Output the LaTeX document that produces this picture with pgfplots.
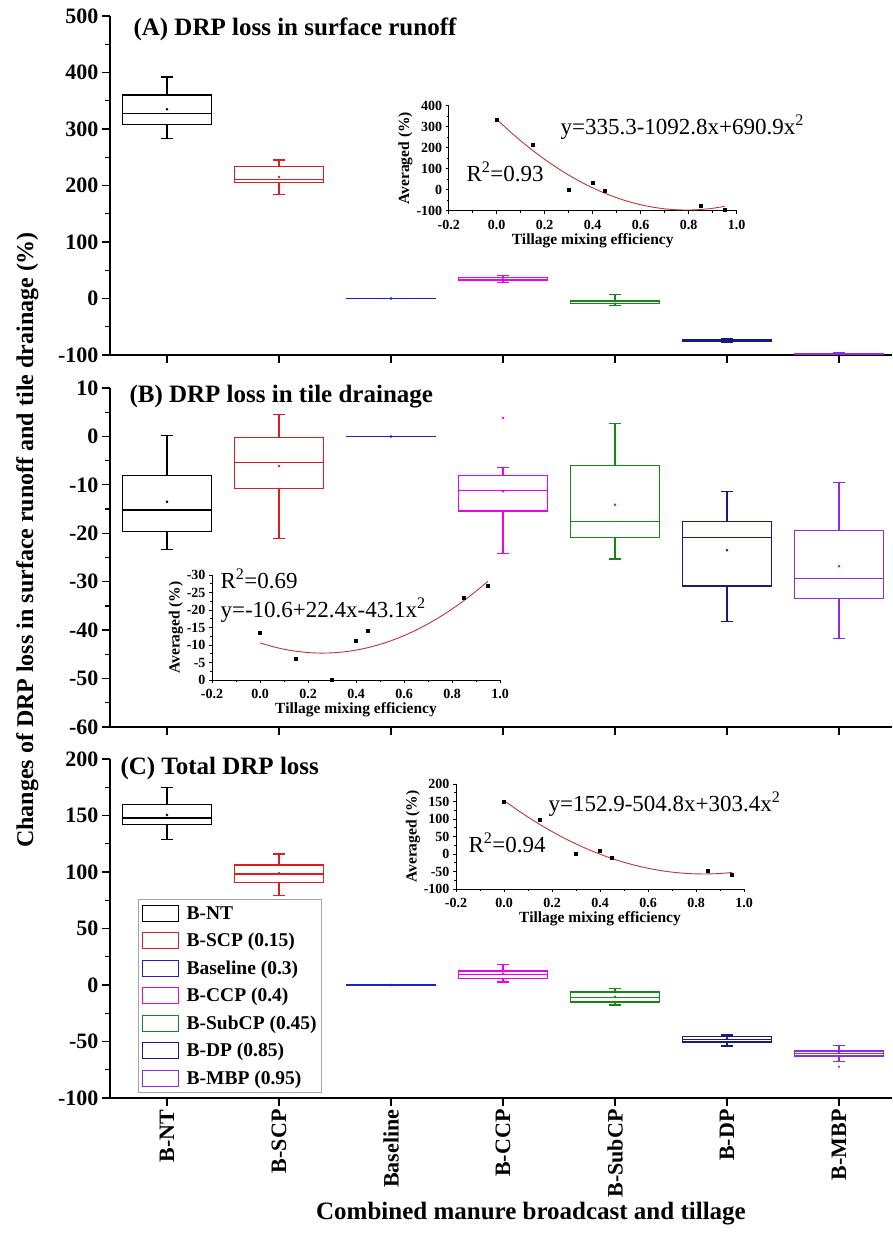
\documentclass[border=0pt]{standalone}
\usepackage{fontspec}
\setmainfont{Liberation Serif}
\usepackage{pgfplots}
\pgfplotsset{compat=1.18}
\usepgfplotslibrary{statistics}
\definecolor{cBlack}{RGB}{0,0,0}
\definecolor{cRed}{RGB}{220,30,30}
\definecolor{cBlue}{RGB}{30,30,215}
\definecolor{cMag}{RGB}{240,0,240}
\definecolor{cGreen}{RGB}{20,135,20}
\definecolor{cNavy}{RGB}{25,25,130}
\definecolor{cViolet}{RGB}{140,45,225}
\definecolor{fitc}{RGB}{190,55,55}
\pgfplotsset{
  mainax/.style={
    scale only axis, width=782pt, height=339pt,
    xmin=-0.509, xmax=6.473,
    axis x line*=bottom, axis y line*=left,
    axis line style={-, line width=1.4pt},
    tick style={black, line width=1.3pt},
    tick align=outside, major tick length=8pt, minor tick length=5pt,
    xtick={0,1,2,3,4,5,6}, xticklabels={},
    minor y tick num=1,
    y tick label style={font=\fontsize{22}{24}\selectfont\bfseries},
    boxplot/draw direction=y,
    boxplot/box extend=0.8, boxplot/whisker extend=0.11,
    clip=false,
  },
  inax/.style={
    scale only axis, width=288pt, height=105pt,
    xmin=-0.2, xmax=1.0,
    axis x line*=bottom, axis y line*=left,
    axis line style={-, line width=0.7pt},
    tick style={black, line width=0.6pt},
    tick align=outside, major tick length=3pt, minor tick length=2pt,
    xtick={-0.2,0,0.2,0.4,0.6,0.8,1.0},
    xticklabels={-0.2,0.0,0.2,0.4,0.6,0.8,1.0},
    minor x tick num=1, minor y tick num=1,
    tick label style={font=\fontsize{14}{16}\selectfont\bfseries},
    x tick label style={yshift=-3pt},
    xlabel={Tillage mixing efficiency}, ylabel={Averaged (\%)},
    label style={font=\fontsize{15.5}{17}\selectfont\bfseries},
    xlabel style={yshift=3pt}, ylabel style={yshift=-3pt},
    clip=false,
  },
  box/.style={line width=1.2pt, forget plot, solid},
  avg/.style={only marks, mark=*, mark size=1.1pt, forget plot},
  fit/.style={no marks, color=fitc, line width=0.9pt, smooth},
  pts/.style={only marks, mark=square*, mark size=1.5pt, black},
}
\newcommand{\bx}[7]{\addplot[box,#1,boxplot prepared={draw position=#2,lower whisker=#3,lower quartile=#4,median=#5,upper quartile=#6,upper whisker=#7}] coordinates {};}
\begin{document}
\begin{tikzpicture}[x=1pt,y=1pt]
\useasboundingbox (0,0) rectangle (892,1250);
% ---------------- Panel A
\begin{axis}[mainax, at={(110pt,895pt)}, anchor=south west,
  ymin=-100, ymax=500, ytick={-100,0,100,200,300,400,500},
  yticklabels={-100,0,100,200,300,400,500}]
\bx{cBlack}{0}{283}{308}{328}{360}{392}
\bx{cRed}{1}{184}{205}{211}{234}{245}
\bx{cBlue}{2}{0}{0}{0}{0}{0}
\bx{cMag}{3}{28}{31.5}{34}{36.5}{40}
\bx{cGreen}{4}{-12}{-9}{-6}{-3}{6.5}
\bx{cNavy}{5}{-77}{-75.5}{-74}{-73}{-71}
\bx{cViolet}{6}{-99.5}{-98.5}{-98}{-97.5}{-96.5}
\addplot[avg,cBlack] coordinates {(0,335)};
\addplot[avg,cRed] coordinates {(1,215)};
\addplot[avg,cBlue] coordinates {(2,0)};
\addplot[avg,cMag] coordinates {(3,34)};
\addplot[avg,cGreen] coordinates {(4,-5)};
\addplot[avg,cNavy] coordinates {(5,-74)};
\addplot[avg,cViolet] coordinates {(6,-98)};
\end{axis}
% ---------------- Panel B
\begin{axis}[mainax, at={(110pt,523pt)}, anchor=south west,
  ymin=-60, ymax=10, ytick={-60,-50,-40,-30,-20,-10,0,10},
  yticklabels={-60,-50,-40,-30,-20,-10,0,10}]
\bx{cBlack}{0}{-23.4}{-19.7}{-15.2}{-8.0}{0.2}
\bx{cRed}{1}{-21.0}{-10.8}{-5.4}{-0.2}{4.5}
\bx{cBlue}{2}{0}{0}{0}{0}{0}
\bx{cMag}{3}{-24.2}{-15.4}{-11.1}{-8.0}{-6.4}
\bx{cGreen}{4}{-25.3}{-20.8}{-17.5}{-6.0}{2.6}
\bx{cNavy}{5}{-38.2}{-30.9}{-20.8}{-17.5}{-11.4}
\bx{cViolet}{6}{-41.8}{-33.4}{-29.3}{-19.5}{-9.5}
\addplot[avg,cBlack] coordinates {(0,-13.5)};
\addplot[avg,cRed] coordinates {(1,-6.1)};
\addplot[avg,cBlue] coordinates {(2,0)};
\addplot[avg,cMag] coordinates {(3,-11.3)};
\addplot[avg,cMag] coordinates {(3,3.8)};
\addplot[avg,cGreen] coordinates {(4,-14.1)};
\addplot[avg,cNavy] coordinates {(5,-23.5)};
\addplot[avg,cViolet] coordinates {(6,-26.8)};
\end{axis}
% ---------------- Panel C
\begin{axis}[mainax, at={(110pt,152pt)}, anchor=south west,
  ymin=-100, ymax=200, ytick={-100,-50,0,50,100,150,200},
  yticklabels={-100,-50,0,50,100,150,200},
  xticklabels={B-NT,B-SCP,Baseline,B-CCP,B-SubCP,B-DP,B-MBP},
  x tick label style={rotate=90, anchor=east, font=\fontsize{22}{25}\selectfont\bfseries},
  legend style={at={(0.036,0.587)}, anchor=north west, draw=gray!70, line width=0.8pt,
    font=\fontsize{19.5}{22}\selectfont\bfseries, row sep=8.5pt, inner xsep=3pt, inner ysep=5pt,
    /tikz/every odd column/.append style={column sep=6pt},
    cells={anchor=west}},
  legend image code/.code={\draw[#1, line width=1.1pt, fill=none] (0pt,-8pt) rectangle (36pt,8pt);}]
\bx{cBlack}{0}{128.6}{141.9}{147.8}{159.6}{175}
\bx{cRed}{1}{79}{90.9}{98.2}{106.2}{116}
\bx{cBlue}{2}{0}{0}{0}{0}{0}
\bx{cMag}{3}{2.7}{5.9}{9.5}{12.4}{18.3}
\bx{cGreen}{4}{-17.7}{-15}{-11.2}{-6.2}{-2.9}
\bx{cNavy}{5}{-54}{-50.4}{-48}{-45.4}{-44.2}
\bx{cViolet}{6}{-67.9}{-62.8}{-60.4}{-58.4}{-53.4}
\addplot[avg,cBlack] coordinates {(0,150.4)};
\addplot[avg,cRed] coordinates {(1,99)};
\addplot[avg,cBlue] coordinates {(2,0)};
\addplot[avg,cMag] coordinates {(3,10)};
\addplot[avg,cGreen] coordinates {(4,-10.5)};
\addplot[avg,cNavy] coordinates {(5,-47)};
\addplot[avg,cViolet] coordinates {(6,-60)};
\addplot[avg,cViolet,mark size=0.9pt] coordinates {(6,-72.3)};
\addlegendimage{cBlack}\addlegendentry{B-NT}
\addlegendimage{cRed}\addlegendentry{B-SCP (0.15)}
\addlegendimage{cBlue}\addlegendentry{Baseline (0.3)}
\addlegendimage{cMag}\addlegendentry{B-CCP (0.4)}
\addlegendimage{cGreen}\addlegendentry{B-SubCP (0.45)}
\addlegendimage{cNavy}\addlegendentry{B-DP (0.85)}
\addlegendimage{cViolet}\addlegendentry{B-MBP (0.95)}
\end{axis}
% ---------------- Inset A
\begin{axis}[inax, at={(448.7pt,1039.3pt)}, anchor=south west,
  ymin=-100, ymax=400, ytick={-100,0,100,200,300,400},
  yticklabels={-100,0,100,200,300,400}]
\addplot[fit] coordinates {(0,335.3)(0.05,282.39)(0.1,232.93)(0.15,186.93)(0.2,144.38)(0.25,105.28)(0.3,69.64)(0.35,37.46)(0.4,8.72)(0.45,-16.55)(0.5,-38.38)(0.55,-56.74)(0.6,-71.66)(0.65,-83.12)(0.7,-91.12)(0.75,-95.67)(0.8,-96.76)(0.85,-94.41)(0.9,-88.59)(0.95,-79.32)};
\addplot[pts] coordinates {(0,335)(0.15,215)(0.3,0)(0.4,34)(0.45,-5)(0.85,-74)(0.95,-96)};
\end{axis}
% ---------------- Inset B
\begin{axis}[inax, at={(212pt,570pt)}, anchor=south west, y dir=reverse,
  ymin=-30, ymax=0, ytick={-30,-25,-20,-15,-10,-5,0},
  yticklabels={-30,-25,-20,-15,-10,-5,0}]
\addplot[fit] coordinates {(0,-10.6)(0.05,-9.588)(0.1,-8.791)(0.15,-8.210)(0.2,-7.844)(0.25,-7.694)(0.3,-7.759)(0.35,-8.040)(0.4,-8.536)(0.45,-9.248)(0.5,-10.175)(0.55,-11.318)(0.6,-12.676)(0.65,-14.250)(0.7,-16.039)(0.75,-18.044)(0.8,-20.264)(0.85,-22.700)(0.9,-25.351)(0.95,-28.218)};
\addplot[pts] coordinates {(0,-13.5)(0.15,-6.0)(0.3,0)(0.4,-11.3)(0.45,-14.1)(0.85,-23.5)(0.95,-26.8)};
\end{axis}
% ---------------- Inset C
\begin{axis}[inax, at={(456pt,361pt)}, anchor=south west,
  ymin=-100, ymax=200, ytick={-100,-50,0,50,100,150,200},
  yticklabels={-100,-50,0,50,100,150,200}]
\addplot[fit] coordinates {(0,152.9)(0.05,128.42)(0.1,105.45)(0.15,83.99)(0.2,64.08)(0.25,45.66)(0.3,28.77)(0.35,13.39)(0.4,-0.48)(0.45,-12.82)(0.5,-23.65)(0.55,-32.96)(0.6,-40.76)(0.65,-47.03)(0.7,-51.79)(0.75,-55.04)(0.8,-56.76)(0.85,-56.97)(0.9,-55.67)(0.95,-52.84)};
\addplot[pts] coordinates {(0,150)(0.15,99)(0.3,0)(0.4,10)(0.45,-10.5)(0.85,-47)(0.95,-60)};
\end{axis}
% ---------------- Texts
\node[anchor=base west, font=\fontsize{25}{28}\selectfont\bfseries] at (130,1214) {(A) DRP loss in surface runoff};
\node[anchor=base west, font=\fontsize{25}{28}\selectfont\bfseries] at (126,847) {(B) DRP loss in tile drainage};
\node[anchor=base west, font=\fontsize{25}{28}\selectfont\bfseries] at (117,475) {(C) Total DRP loss};
\node[anchor=base west, font=\fontsize{23}{26}\selectfont] at (557,1115) {y=335.3-1092.8x+690.9x\textsuperscript{2}};
\node[anchor=base west, font=\fontsize{23}{26}\selectfont] at (463,1068) {R\textsuperscript{2}=0.93};
\node[anchor=base west, font=\fontsize{23}{26}\selectfont] at (217,661) {R\textsuperscript{2}=0.69};
\node[anchor=base west, font=\fontsize{23}{26}\selectfont] at (217,632) {y=-10.6+22.4x-43.1x\textsuperscript{2}};
\node[anchor=base west, font=\fontsize{23}{26}\selectfont] at (545,438) {y=152.9-504.8x+303.4x\textsuperscript{2}};
\node[anchor=base west, font=\fontsize{23}{26}\selectfont] at (465,397) {R\textsuperscript{2}=0.94};
\node[rotate=90, anchor=base, font=\fontsize{24}{28}\selectfont\bfseries] at (33,710) {Changes of DRP loss in surface runoff and tile drainage (\%)};
\node[anchor=base, font=\fontsize{25}{28}\selectfont\bfseries] at (531,30) {Combined manure broadcast and tillage};
\end{tikzpicture}
\end{document}
